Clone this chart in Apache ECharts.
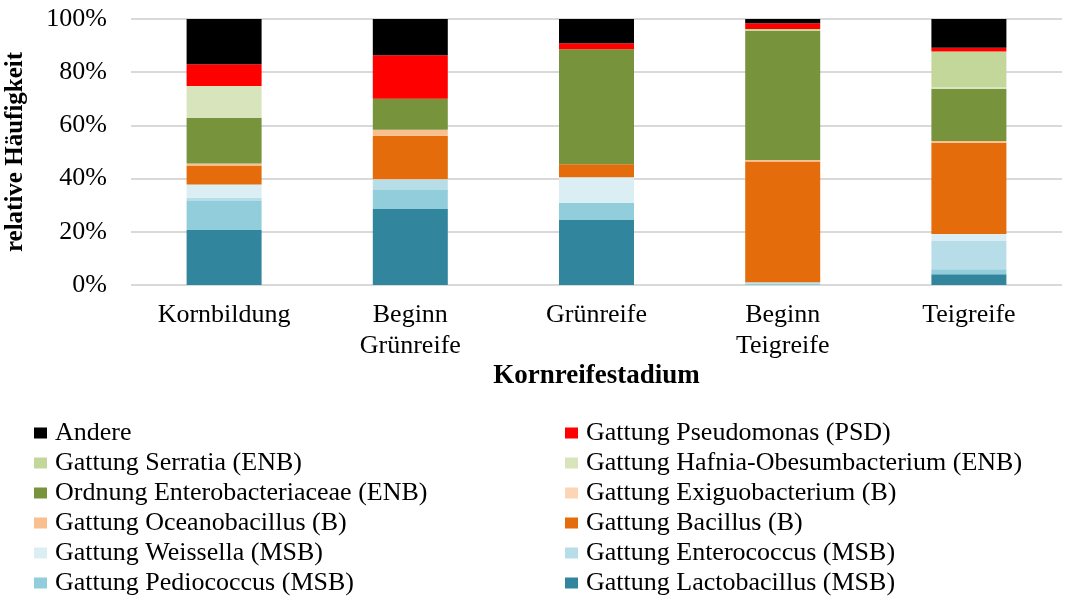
<!DOCTYPE html>
<html>
<head>
<meta charset="utf-8">
<script src="https://cdn.jsdelivr.net/npm/echarts@6/dist/echarts.min.js"></script>
<style>
  body { margin: 0; background: #fff; }
  #chart { width: 1067px; height: 597px; }
</style>
</head>
<body>
<div id="chart"></div>
<script>
// categories (x axis)
var stages = ["Kornbildung", "Beginn\nGrünreife", "Grünreife", "Beginn\nTeigreife", "Teigreife"];

// shares in %, one array per group
var lactobacillus   = [20.7, 28.6, 24.4, 0.0, 4.0];
var pediococcus     = [10.9, 7.1, 6.5, 0.5, 1.9];
var enterococcus    = [1.2, 3.8, 0.0, 0.5, 10.6];
var weissella       = [5.0, 0.3, 9.6, 0.0, 2.7];
var bacillus        = [7.1, 16.3, 4.9, 45.4, 34.3];
var oceanobacillus  = [0.8, 2.3, 0.0, 0.6, 0.6];
var exiguobacterium = [0.0, 0.0, 0.0, 0.0, 0.0];
var enterobact      = [17.2, 11.6, 43.2, 48.6, 19.7];
var hafnia          = [11.9, 0.0, 0.0, 0.0, 0.5];
var serratia        = [0.0, 0.0, 0.0, 0.6, 13.5];
var pseudomonas     = [8.2, 16.4, 2.3, 2.2, 1.4];
var andere          = [17.0, 13.7, 9.1, 1.6, 10.8];

var yTicks = [0, 20, 40, 60, 80, 100];

// stack order, bottom to top
var groups = [
  { name: "Gattung Lactobacillus (MSB)", data: lactobacillus, color: "#31859c" },
  { name: "Gattung Pediococcus (MSB)", data: pediococcus, color: "#92cddc" },
  { name: "Gattung Enterococcus (MSB)", data: enterococcus, color: "#b7dee8" },
  { name: "Gattung Weissella (MSB)", data: weissella, color: "#daeef3" },
  { name: "Gattung Bacillus (B)", data: bacillus, color: "#e46c0a" },
  { name: "Gattung Oceanobacillus (B)", data: oceanobacillus, color: "#fabf8f" },
  { name: "Gattung Exiguobacterium (B)", data: exiguobacterium, color: "#fcd5b4" },
  { name: "Ordnung Enterobacteriaceae (ENB)", data: enterobact, color: "#77933c" },
  { name: "Gattung Hafnia-Obesumbacterium (ENB)", data: hafnia, color: "#d8e4bc" },
  { name: "Gattung Serratia (ENB)", data: serratia, color: "#c4d79b" },
  { name: "Gattung Pseudomonas (PSD)", data: pseudomonas, color: "#ff0000" },
  { name: "Andere", data: andere, color: "#000000" }
];

var font = "'Liberation Serif', 'Times New Roman', serif";

var series = groups.map(function (g) {
  return {
    name: g.name,
    type: "bar",
    stack: "total",
    barWidth: 75,
    data: g.data,
    itemStyle: { color: g.color }
  };
});

var legendText = { fontFamily: font, fontSize: 26, color: "#000", lineHeight: 26, padding: [0, 0, 0, 3] };

function legendCol(x, names) {
  return {
    orient: "vertical",
    left: x,
    top: 420,
    height: 180,
    padding: 0,
    itemWidth: 13,
    itemHeight: 11,
    itemGap: 4,
    icon: "rect",
    textStyle: legendText,
    data: names
  };
}

var chart = echarts.init(document.getElementById("chart"));
chart.setOption({
  animation: false,
  grid: { left: 131, right: 5, top: 19, bottom: 312, outerBoundsMode: "none" },
  legend: [
    legendCol(34, ["Andere", "Gattung Serratia (ENB)", "Ordnung Enterobacteriaceae (ENB)",
                   "Gattung Oceanobacillus (B)", "Gattung Weissella (MSB)", "Gattung Pediococcus (MSB)"]),
    legendCol(565, ["Gattung Pseudomonas (PSD)", "Gattung Hafnia-Obesumbacterium (ENB)",
                    "Gattung Exiguobacterium (B)", "Gattung Bacillus (B)",
                    "Gattung Enterococcus (MSB)", "Gattung Lactobacillus (MSB)"])
  ],
  xAxis: {
    type: "category",
    data: stages,
    name: "Kornreifestadium",
    nameLocation: "middle",
    nameGap: 78,
    nameTextStyle: { fontFamily: font, fontSize: 27, fontWeight: "bold", color: "#000" },
    axisLine: { show: false },
    axisTick: { show: false },
    axisLabel: { fontFamily: font, fontSize: 26, color: "#000", lineHeight: 31, margin: 15 }
  },
  yAxis: {
    type: "value",
    min: yTicks[0],
    max: yTicks[yTicks.length - 1],
    interval: 20,
    name: "relative Häufigkeit",
    nameLocation: "middle",
    nameGap: 103,
    nameTextStyle: { fontFamily: font, fontSize: 25, fontWeight: "bold", color: "#000" },
    axisLine: { show: false },
    axisTick: { show: false },
    axisLabel: { fontFamily: font, fontSize: 26, color: "#000", margin: 24, formatter: "{value}%" },
    splitLine: { lineStyle: { color: "#d9d9d9", width: 2 } }
  },
  series: series
});
</script>
</body>
</html>
